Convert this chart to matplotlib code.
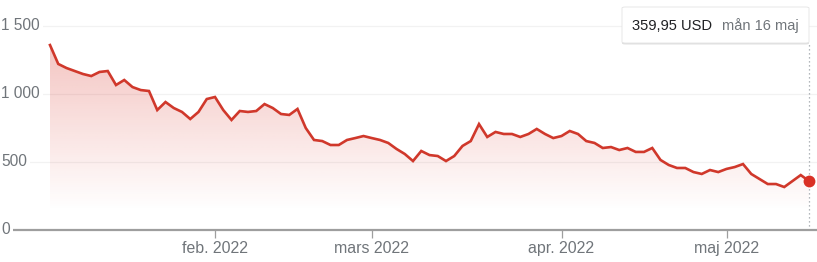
import numpy as np
import matplotlib
matplotlib.use("Agg")
import matplotlib.pyplot as plt
from matplotlib.patches import FancyBboxPatch
import matplotlib.transforms as mtransforms

# ---- data (daily closes, trading days 3 Jan 2022 – 16 May 2022) ----
prices = [1360, 1221, 1191, 1169, 1147, 1132, 1162, 1169, 1066, 1103,
          1051, 1029, 1022, 882, 941, 897, 868, 816, 868, 963,
          978, 882, 809, 875, 868, 875, 926, 897, 853, 846,
          890, 750, 662, 654, 625, 625, 662, 676, 691, 676,
          662, 640, 596, 559, 507, 581, 551, 544, 507, 544,
          618, 654, 779, 684, 721, 706, 706, 684, 706, 743,
          706, 676, 691, 728, 706, 654, 640, 603, 610, 588,
          603, 574, 574, 603, 515, 478, 456, 456, 426, 412,
          441, 426, 449, 463, 485, 412, 375, 338, 338, 316,
          360, 404, 359.95]
month_tick_index = [20, 39, 62, 82]
month_labels = ["feb. 2022", "mars 2022", "apr. 2022", "maj 2022"]
y_ticks = [0, 500, 1000, 1500]
y_tick_labels = ["0", "500", "1 000", "1 500"]
tooltip_value = "359,95 USD"
tooltip_date = "mån 16 maj"

plt.rcParams['font.family'] = ['Liberation Sans', 'DejaVu Sans']

W, H = 817, 262
fig = plt.figure(figsize=(W / 100, H / 100), dpi=100)
fig.patch.set_facecolor("white")

x = np.arange(len(prices))
y = np.array(prices, dtype=float)

ppx = 759 / (len(prices) - 1)          # pixels per trading day
ax = fig.add_axes([0, 32 / H, 1, 230 / H])
ax.set_xlim(-50 / ppx, (W - 50) / ppx)
ax.set_ylim(0, 230 / 0.136)
ax.set_facecolor("none")

for s in ["top", "right", "left"]:
    ax.spines[s].set_visible(False)
ax.spines["bottom"].set_color("#9e9e9e")
ax.spines["bottom"].set_linewidth(1.6)

ax.set_yticks([])
ax.set_xticks(month_tick_index)
ax.set_xticklabels(month_labels)
ax.tick_params(axis="x", direction="out", length=6, width=0.9, color="#9e9e9e",
               labelcolor="#70757a", labelsize=11.4, pad=2)

red = "#d0382b"

# gridlines and y labels
ytrans = mtransforms.blended_transform_factory(ax.transAxes, ax.transData)
for v, lab in zip(y_ticks, y_tick_labels):
    if v > 0:
        ax.axhline(v, color="#f2f2f2", lw=0.9, zorder=0)
    ax.text(1 / W, v, lab, transform=ytrans, ha="left", va="center",
            fontsize=11.2, color="#70757a", zorder=5, clip_on=False,
            bbox=dict(facecolor="white", edgecolor="none", pad=2.5))

# gradient fill under the line
poly = ax.fill_between(x, y, 0, facecolor="none", edgecolor="none")
ymax_v = 230 / 0.136
ny = 300
vals = np.linspace(0, ymax_v, ny)
alpha = np.clip(0.28 * (vals - 140) / 1220, 0, 0.34)
img = np.zeros((ny, 2, 4))
img[..., 0] = 217 / 255
img[..., 1] = 48 / 255
img[..., 2] = 37 / 255
img[..., 3] = alpha[:, None]
im = ax.imshow(img, extent=[x[0], x[-1], 0, ymax_v], origin="lower",
               aspect="auto", zorder=1, interpolation="bilinear")
path = poly.get_paths()[0]
im.set_clip_path(path, transform=ax.transData)
ax.set_xlim(-50 / ppx, (W - 50) / ppx)
ax.set_ylim(0, ymax_v)

# line
ax.plot(x, y, color=red, lw=1.9, zorder=3, solid_joinstyle="miter")

# hover marker and dotted guide
ax.plot([x[-1], x[-1]], [0, (230 - 43) / 0.136], color="#9aa0a6", lw=0.9,
        ls=(0, (1, 2.2)), zorder=2)
ax.plot([x[-1]], [y[-1]], "o", color="#d93025", ms=8.5, zorder=4,
        markeredgewidth=0)

# tooltip box
def fx(px):
    return px / W

def fy(py_top):
    return (H - py_top) / H

shadow = FancyBboxPatch((fx(622), fy(44.5)), fx(809) - fx(622), (44.5 - 8.5) / H,
                        boxstyle="round,pad=0,rounding_size=0.004",
                        transform=fig.transFigure, facecolor="#000000",
                        alpha=0.12, edgecolor="none", zorder=8)
fig.patches.append(shadow)
box = FancyBboxPatch((fx(622), fy(43)), fx(809) - fx(622), (43 - 7) / H,
                     boxstyle="round,pad=0,rounding_size=0.004",
                     transform=fig.transFigure, facecolor="white",
                     edgecolor="#e3e3e3", lw=0.6, zorder=9)
fig.patches.append(box)
fig.text(fx(631.5), fy(26), tooltip_value, ha="left", va="center",
         fontsize=10.6, color="#202124", zorder=10)
fig.text(fx(722), fy(26), tooltip_date, ha="left", va="center",
         fontsize=10.5, color="#70757a", zorder=10)

fig.savefig("out.png", dpi=100, facecolor="white")
